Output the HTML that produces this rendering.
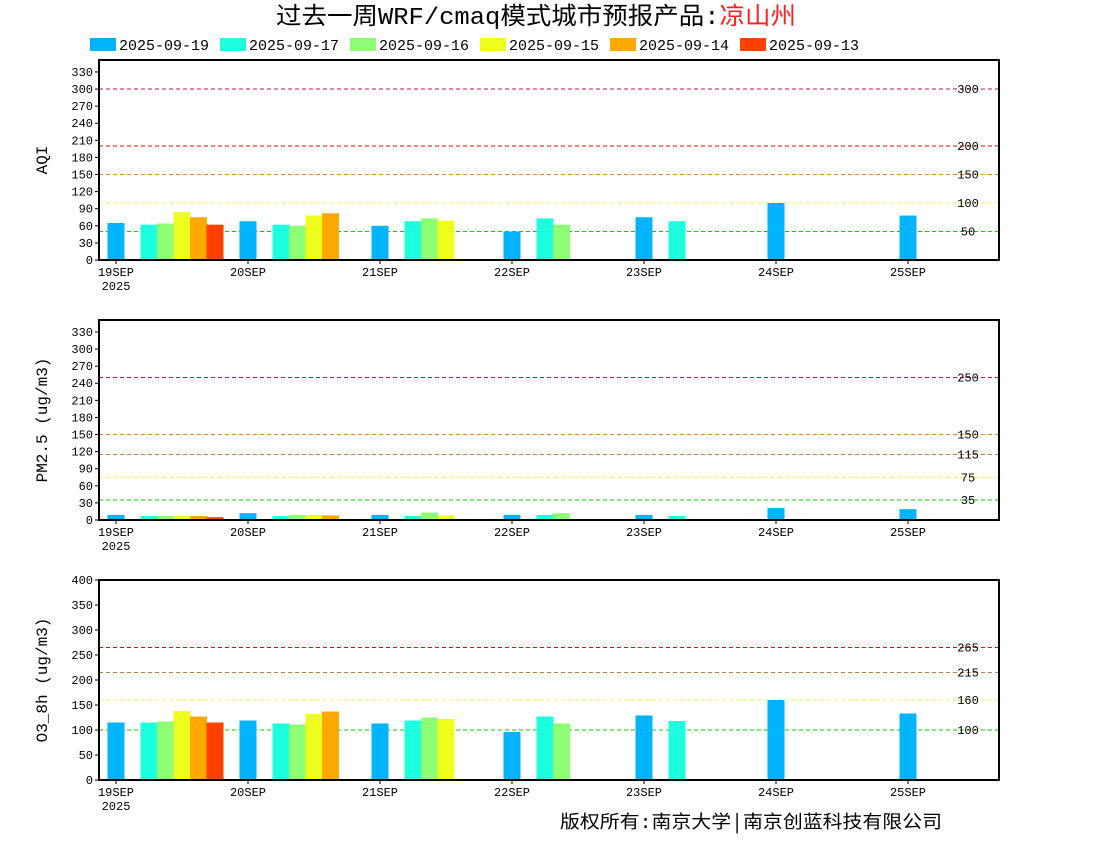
<!DOCTYPE html>
<html><head><meta charset="utf-8"><style>
body{margin:0;background:#fff;}
svg text{font-family:"Liberation Mono","Noto Sans CJK SC",monospace;}
</style></head><body>
<svg id="c" width="1100" height="850" xmlns="http://www.w3.org/2000/svg">
<text x="536" y="24" text-anchor="middle" font-size="24" textLength="520" lengthAdjust="spacingAndGlyphs" font-family="'Liberation Serif','Noto Serif CJK SC',serif">过去一周WRF/cmaq模式城市预报产品:<tspan fill="#ff2020">凉山州</tspan></text>
<text x="560" y="828" font-size="18" textLength="382" lengthAdjust="spacingAndGlyphs" font-family="'Liberation Serif','Noto Serif CJK SC',serif">版权所有:南京大学│南京创蓝科技有限公司</text>
</svg>
<script>
const seriesNames=["2025-09-19","2025-09-17","2025-09-16","2025-09-15","2025-09-14","2025-09-13"];
const seriesColors=["#00b4ff","#1effe0","#8cff74","#eeff1e","#ffa800","#ff4200"];
const seriesSlots=[0,2,3,4,5,6];
const days=["19SEP","20SEP","21SEP","22SEP","23SEP","24SEP","25SEP"];
const aqiVals=[[65,68,60,50,75,100,78],[62,62,68,73,68,null,null],[64,60,73,62,null,null,null],[84,78,69,null,null,null,null],[75,82,null,null,null,null,null],[62,null,null,null,null,null,null]];
const pmVals=[[9,12,9,9,9,21,19],[7,7,7,9,7,null,null],[7,9,13,12,null,null,null],[7,9,8,null,null,null,null],[7,8,null,null,null,null,null],[5,null,null,null,null,null,null]];
const o3Vals=[[115,119,113,96,129,160,133],[115,113,119,127,118,null,null],[117,111,125,113,null,null,null],[138,132,122,null,null,null,null],[127,137,null,null,null,null,null],[115,null,null,null,null,null,null]];
const aqiTicks=[0,30,60,90,120,150,180,210,240,270,300,330];
const pmTicks=[0,30,60,90,120,150,180,210,240,270,300,330];
const o3Ticks=[0,50,100,150,200,250,300,350,400];
const aqiRefs=[[300,"#c01060"],[200,"#ff0000"],[150,"#ff8000"],[100,"#f0f040"],[50,"#00d000"]];
const pmRefs=[[250,"#c01060"],[150,"#ff8000"],[115,"#c08040"],[75,"#f0f040"],[35,"#00d000"]];
const o3Refs=[[265,"#ff0000"],[215,"#c08040"],[160,"#f0f040"],[100,"#00d000"]];
const NS="http://www.w3.org/2000/svg";
const svg=document.getElementById('c');
function mk(t,a,p){const e=document.createElementNS(NS,t);for(const k in a)e.setAttribute(k,a[k]);(p||svg).appendChild(e);return e;}
seriesNames.forEach((n,i)=>{const x=90+i*130;
 const g=mk('g',{});
 mk('rect',{x:x,y:38,width:26,height:13,fill:seriesColors[i]},g);
 const t=mk('text',{x:x+29,y:50,'font-size':15},g);t.textContent=n;});
function panel(top,max,ticks,refs,vals,label,name){
 const L=99,R=999,B=top+200,H=200;
 const ys=v=>B-v/max*H, xs=(d,s)=>116+d*132+s*16.5;
 const g=mk('g',{});
 refs.forEach(r=>{mk('line',{x1:L,x2:R,y1:ys(r[0]),y2:ys(r[0]),stroke:r[1],'stroke-dasharray':'4,3','stroke-width':1},g);
  const t=mk('text',{x:968,y:ys(r[0])+4,'font-size':12,'text-anchor':'middle'},g);t.textContent=r[0];});
 vals.forEach((sv,si)=>sv.forEach((v,d)=>{if(v==null)return;
  const b=mk('rect',{x:xs(d,seriesSlots[si])-8.5,y:ys(v),width:17,height:B-ys(v),fill:seriesColors[si]},g);
  
  }));
 mk('rect',{x:L,y:top,width:R-L,height:H,fill:'none',stroke:'#000','stroke-width':2},g);
 ticks.forEach(t=>{mk('line',{x1:L-4,x2:L,y1:ys(t),y2:ys(t),stroke:'#000'},g);
  const e=mk('text',{x:L-6,y:ys(t)+4,'font-size':12,'text-anchor':'end'},g);e.textContent=t;});
 days.forEach((d,i)=>{mk('line',{x1:xs(i,0),x2:xs(i,0),y1:B,y2:B+4,stroke:'#000'},g);
  const e=mk('text',{x:xs(i,0),y:B+16,'font-size':12,'text-anchor':'middle'},g);e.textContent=d;});
 const yr=mk('text',{x:116,y:B+30,'font-size':12,'text-anchor':'middle'},g);yr.textContent="2025";
 const yl=mk('text',{x:0,y:0,'font-size':16,'text-anchor':'middle',transform:`translate(47,${top+100}) rotate(-90)`},g);yl.textContent=label;
 
 
}
panel(60,351,aqiTicks,aqiRefs,aqiVals,"AQI","aqi-panel");
panel(320,351,pmTicks,pmRefs,pmVals,"PM2.5 (ug/m3)","pm25-panel");
panel(580,400,o3Ticks,o3Refs,o3Vals,"O3_8h (ug/m3)","o3-panel");
</script>
</body></html>
